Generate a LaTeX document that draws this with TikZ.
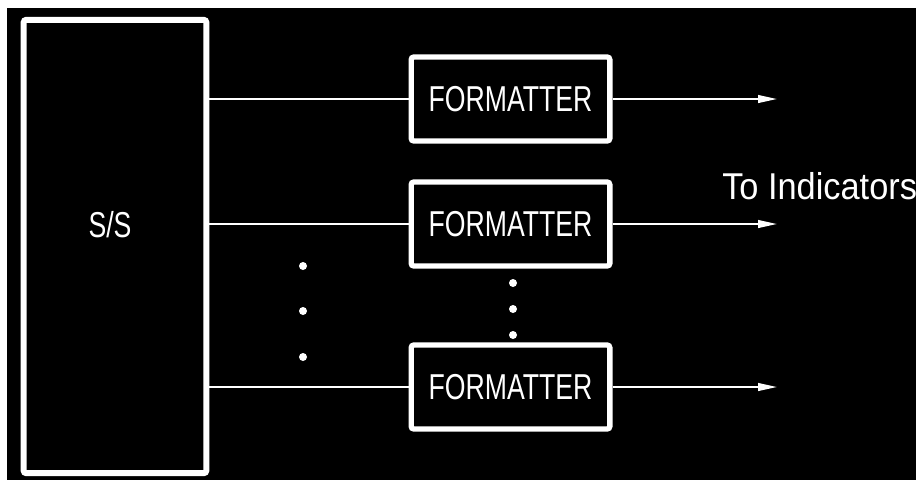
\documentclass[tikz,border=0pt]{standalone}
\usepackage{fontspec}
\usetikzlibrary{arrows.meta}
\newfontfamily\boxfont[FakeStretch=0.74]{Liberation Sans}
\newfontfamily\notefont[FakeStretch=0.92]{Liberation Sans}
\tikzset{
  wire/.style={draw=white, line width=2.2pt},
  outwire/.style={wire, -{Triangle[length=15pt,width=5.5pt]}},
  fmtbox/.style={draw=white, line width=4pt, rounded corners=2pt, minimum width=149pt, minimum height=63pt, inner sep=0pt, text=white, font=\boxfont\fontsize{27}{32}\selectfont},
  ssbox/.style={draw=white, line width=4.5pt, rounded corners=2pt, minimum width=137pt, minimum height=340pt, inner sep=0pt},
  dot/.style={circle, fill=white, inner sep=0pt, minimum size=6pt},
}
\begin{document}
\begin{tikzpicture}[x=0.75pt,y=0.75pt,yscale=-1,xscale=1]
\useasboundingbox (0,0) rectangle (916,480);
\fill[white] (0,0) rectangle (916,480);
\fill[black] (7,8) rectangle (916,480);
% subsystem block
\node [ssbox] (ss) at (115,246.5) {};
\node [text=white, inner sep=0pt, font=\boxfont\fontsize{27}{32}\selectfont] (sslabel) at (110,225) {S/S};
% formatters
\node [fmtbox] (fmt1) at (510.5,99) {FORMATTER};
\node [fmtbox] (fmt2) at (510.5,224) {FORMATTER};
\node [fmtbox] (fmt3) at (510.5,387) {FORMATTER};
\coordinate (out1) at (778,99);
\coordinate (out2) at (778,224);
\coordinate (out3) at (778,387);
% inputs
\draw [wire] (ss.east |- fmt1.west) -- (fmt1.west);
\draw [wire] (ss.east |- fmt2.west) -- (fmt2.west);
\draw [wire] (ss.east |- fmt3.west) -- (fmt3.west);
% outputs
\draw [outwire] (fmt1.east) -- (out1);
\draw [outwire] (fmt2.east) -- (out2);
\draw [outwire] (fmt3.east) -- (out3);
\node [anchor=west, text=white, inner sep=0pt, font=\notefont\fontsize{28}{33}\selectfont] (note) at (722,186) {To Indicators};
% ellipsis dots
\node [dot] (ldot1) at (303,266) {};
\node [dot] (ldot2) at (303,311) {};
\node [dot] (ldot3) at (303,357) {};
\node [dot] (rdot1) at (513,283) {};
\node [dot] (rdot2) at (513,309) {};
\node [dot] (rdot3) at (513,335) {};
\end{tikzpicture}
\end{document}
